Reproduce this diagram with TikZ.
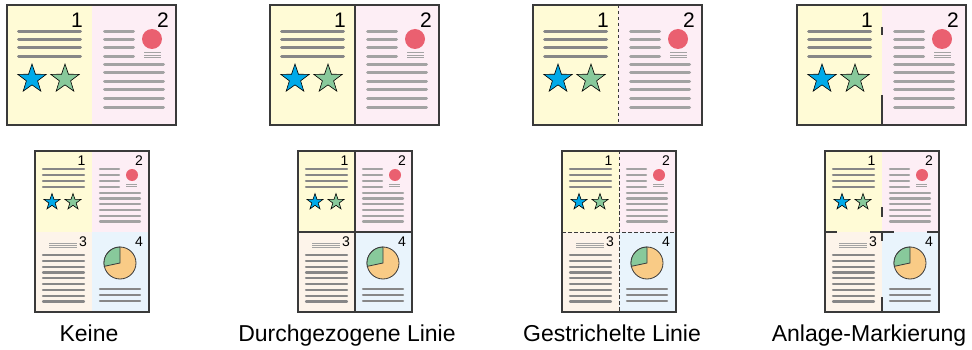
\documentclass[tikz,border=0pt]{standalone}
\usepackage{fontspec}
\setmainfont{Liberation Sans}
\usepackage{xcolor}
\usetikzlibrary{shapes.geometric}

\definecolor{pgyellow}{HTML}{FFFBD6}
\definecolor{pgpink}{HTML}{FDEEF5}
\definecolor{pgpeach}{HTML}{FDF4EA}
\definecolor{pgblue}{HTML}{E9F4FC}
\definecolor{framegray}{HTML}{3A3A3A}
\definecolor{txtdark}{HTML}{878787}
\definecolor{txtlight}{HTML}{A3A3A3}
\definecolor{starblue}{HTML}{00AAE9}
\definecolor{stargreen}{HTML}{88C99B}
\definecolor{dotred}{HTML}{EA6070}
\definecolor{pieorange}{HTML}{F9CB86}

% two pages side by side, box top-left at local origin
\newcommand{\spreadtop}[1]{%
  \fill[pgyellow] (0,0) rectangle (85,120);
  \fill[pgpink] (85,0) rectangle (169,120);
  % page 1
  \foreach \y in {27,35,43,52} \draw[bigline,txtdark] (10,\y) -- (75,\y);
  \node[star5,fill=starblue,minimum size=30pt] (#1sa) at (25,74) {};
  \node[star5,fill=stargreen,minimum size=30pt] (#1sb) at (58,74) {};
  \node[bignum] (#1na) at (76,8) {1};
  % page 2
  \foreach \y in {27,35,43,52} \draw[bigline,txtlight] (96,\y) -- (128,\y);
  \fill[dotred] (145,34) circle (10pt);
  \foreach \y in {47.5,50,52.5} \draw[txtlight,line width=0.8pt] (137,\y) -- (154,\y);
  \foreach \y in {60,68,77,85,94,103} \draw[bigline,txtlight] (96,\y) -- (158,\y);
  \node[bignum] (#1nb) at (162,8) {2};
}

% four pages on one sheet, box top-left at local origin
\newcommand{\spreadbottom}[1]{%
  \fill[pgyellow] (0,0) rectangle (57,81);
  \fill[pgpink] (57,0) rectangle (114,81);
  \fill[pgpeach] (0,81) rectangle (57,161);
  \fill[pgblue] (57,81) rectangle (114,161);
  % page 1
  \foreach \y in {18,24,30,36} \draw[smallline,txtdark] (7,\y) -- (50,\y);
  \node[star5,fill=starblue,minimum size=17pt] (#1sa) at (17,51) {};
  \node[star5,fill=stargreen,minimum size=17pt] (#1sb) at (38,51) {};
  \node[smallnum] (#1na) at (50.5,5) {1};
  % page 2
  \foreach \y in {18,24,30,36} \draw[smallline,txtlight] (64,\y) -- (85,\y);
  \fill[dotred] (97,24) circle (6pt);
  \foreach \y in {33.5,35.5} \draw[txtlight,line width=0.9pt] (91,\y) -- (102,\y);
  \foreach \y in {42,47.5,53,59,65,70.5} \draw[smallline,txtlight] (64,\y) -- (106,\y);
  \node[smallnum] (#1nb) at (108,5) {2};
  % page 3
  \foreach \y in {92,94,96} \draw[txtlight,line width=0.8pt] (14,\y) -- (42,\y);
  \foreach \y in {104,110,116,121.5,127,133,139,145,150.5} \draw[smallline,txtdark] (7,\y) -- (50,\y);
  \node[smallnum] (#1nc) at (52,86) {3};
  % page 4
  \fill[pieorange,draw=framegray,line width=0.8pt] (85,112) circle (16pt);
  \filldraw[fill=stargreen,draw=framegray,line width=0.8pt]
    (85,112) -- ++(90:16pt) arc[start angle=90,end angle=192,radius=16pt] -- cycle;
  \foreach \y in {138,144,150} \draw[smallline,txtdark] (64,\y) -- (106,\y);
  \node[smallnum] (#1nd) at (108,86) {4};
}

\begin{document}
\begin{tikzpicture}[x=1pt,y=-1pt,
  frame/.style={framegray,line width=1.8pt},
  bigline/.style={line width=3pt,line cap=round,shorten <=1.5pt,shorten >=1.5pt},
  smallline/.style={line width=2.1pt,line cap=round,shorten <=1pt,shorten >=1pt},
  star5/.style={star,star points=5,star point ratio=2.55,inner sep=0pt,draw=black,line width=0.6pt},
  bignum/.style={anchor=north east,inner sep=0pt,font=\fontsize{21}{21}\selectfont},
  smallnum/.style={anchor=north east,inner sep=0pt,font=\fontsize{14}{14}\selectfont},
  caption/.style={anchor=base,inner sep=0pt,font=\fontsize{23}{27}\selectfont},
  divsolid/.style={framegray,line width=1.3pt},
  divdash/.style={framegray,line width=0.9pt,dash pattern=on 3.5pt off 2.5pt}
]
\useasboundingbox (0,0) rectangle (972,350);
%--- Keine ---
\begin{scope}[shift={(7,5)}]
  \spreadtop{ka}
  \draw[frame] (0,0) rectangle (169,120);
\end{scope}
\begin{scope}[shift={(35,151)}]
  \spreadbottom{kb}
  \draw[frame] (0,0) rectangle (114,161);
\end{scope}
\node[caption] (keine) at (89,341) {Keine};
%--- Durchgezogene Linie ---
\begin{scope}[shift={(270,5)}]
  \spreadtop{da}
  \draw[divsolid] (85,0) -- (85,120);
  \draw[frame] (0,0) rectangle (169,120);
\end{scope}
\begin{scope}[shift={(298,151)}]
  \spreadbottom{db}
  \draw[divsolid] (57,0) -- (57,161) (0,81) -- (114,81);
  \draw[frame] (0,0) rectangle (114,161);
\end{scope}
\node[caption] (durch) at (347,341) {Durchgezogene Linie};
%--- Gestrichelte Linie ---
\begin{scope}[shift={(533,5)}]
  \spreadtop{ga}
  \draw[divdash] (85,0) -- (85,120);
  \draw[frame] (0,0) rectangle (169,120);
\end{scope}
\begin{scope}[shift={(562,151)}]
  \spreadbottom{gb}
  \draw[divdash] (57,0) -- (57,161) (0,81) -- (114,81);
  \draw[frame] (0,0) rectangle (114,161);
\end{scope}
\node[caption] (gestr) at (612,341) {Gestrichelte Linie};
%--- Anlage-Markierung ---
\begin{scope}[shift={(797,5)}]
  \spreadtop{aa}
  \draw[divsolid] (85,22) -- (85,30) (85,90) -- (85,120);
  \draw[frame] (0,0) rectangle (169,120);
\end{scope}
\begin{scope}[shift={(825,151)}]
  \spreadbottom{ab}
  \draw[divsolid] (57,56) -- (57,66) (57,81) -- (57,90) (57,146) -- (57,161);
  \draw[divsolid] (0,81) -- (12,81) (45,81) -- (69,81) (102,81) -- (114,81);
  \draw[frame] (0,0) rectangle (114,161);
\end{scope}
\node[caption] (anlage) at (869,341) {Anlage-Markierung};
\end{tikzpicture}
\end{document}
